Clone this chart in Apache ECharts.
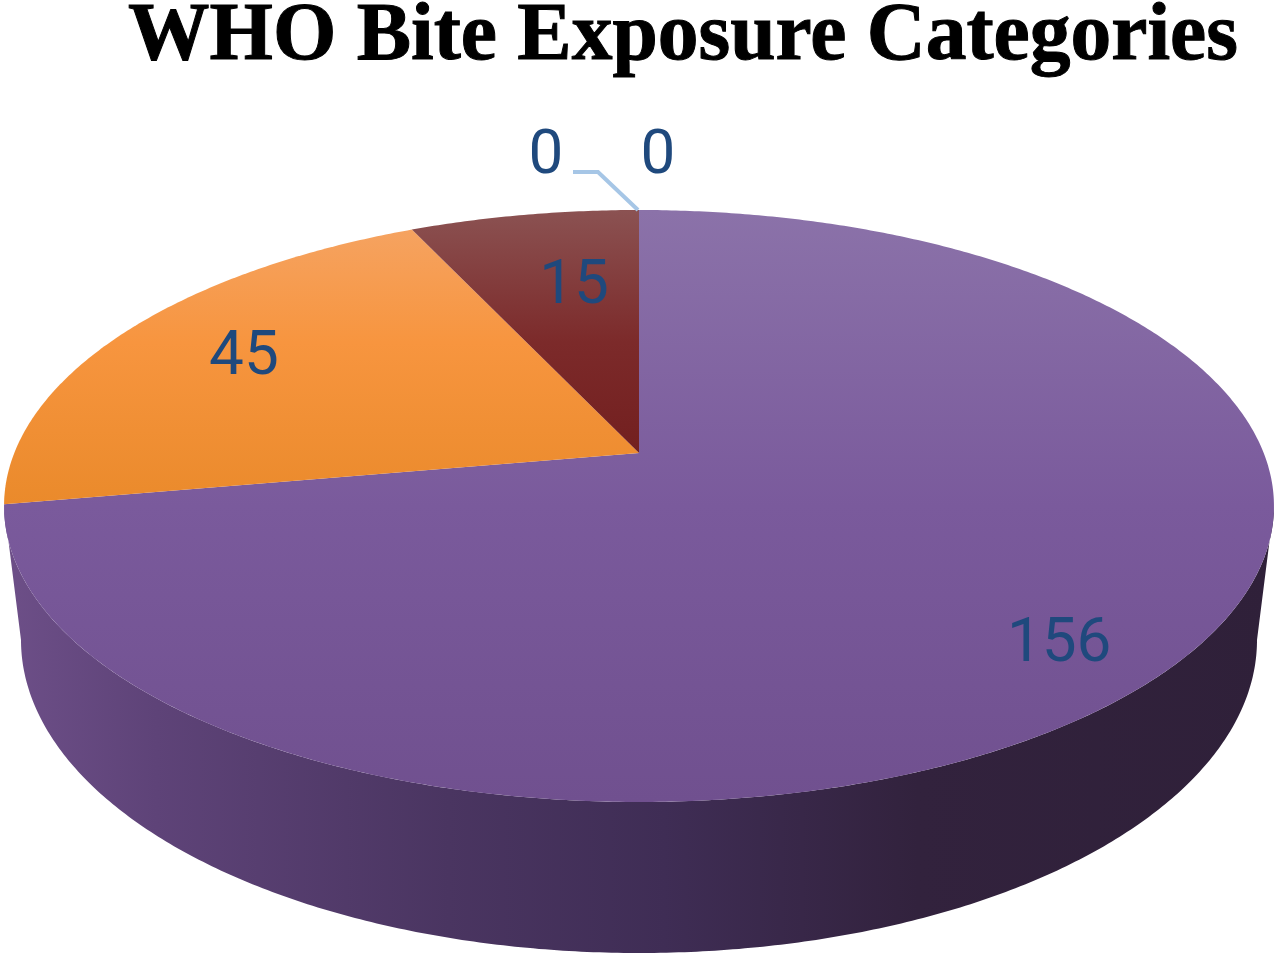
<!DOCTYPE html>
<html>
<head>
<meta charset="utf-8">
<style>html,body{margin:0;padding:0;background:#fff}#chart{width:1280px;height:959px}</style>
<script src="https://cdn.jsdelivr.net/npm/echarts@6/dist/echarts.min.js"></script>
</head>
<body>
<div id="chart"></div>
<script>
// Data
const chartTitle = 'WHO Bite Exposure Categories';
const biteValues = [156, 45, 15, 0, 0];

// Layout: perspective view of the pie disc and its lower rim
const apex = { x: 639, y: 453 };
const lens = { rx: 624.7, ry: 286.5, k: 0.179 };
const lower = { x: 639, y: 640, rx: 618, ry: 313 };
const visibleArc = [100.3, 259.7];
const labelReach = [[0.777, 0.90], [0.772, 0.818], [0.565, 0.714]];
const labelNudgeY = 5;
const zeroLabelShift = [[-93, -301], [19, -301]];
const leaderShift = [[-66, -38], [-41, -38], [-1, 0]];

// Styles
const labelColor = '#1f497d';
const topFills = [
  [[0, '#8b72a9'], [0.5, '#7a5a9c'], [1, '#70508f']],
  [[0, '#f5a566'], [0.45, '#f7953f'], [1, '#ea8a2b']],
  [[0, '#8b5252'], [0.45, '#7c2a2a'], [1, '#6e1a1a']]
];
const wallFill = [[0, '#6d4f88'], [0.12, '#5e4378'], [0.35, '#4a3561'], [0.52, '#3f2d55'], [0.72, '#32223d'], [1, '#2f2039']];

const total = biteValues.reduce((a, b) => a + b, 0);
const rad = d => d * Math.PI / 180;

function rimPoint(deg, f) {
  const u = Math.sin(rad(deg)), v = -Math.cos(rad(deg));
  const w = 1 - lens.k * v;
  const fx = f === undefined ? 1 : f[0], fy = f === undefined ? 1 : f[1];
  return [apex.x + lens.rx * u / w * fx, apex.y + lens.ry * v / w * fy];
}
function lowerPoint(deg) {
  const t = 90 + (deg - visibleArc[0]) / (visibleArc[1] - visibleArc[0]) * 180;
  return [lower.x + lower.rx * Math.sin(rad(t)), lower.y - lower.ry * Math.cos(rad(t))];
}
function arcDegrees(a, b) {
  const out = [], n = Math.max(2, Math.ceil((b - a) * 2));
  for (let i = 0; i <= n; i++) out.push(a + (b - a) * i / n);
  return out;
}

function renderSlice(params, api) {
  const i = params.dataIndex;
  const value = api.value(0);
  let before = 0;
  for (let j = 0; j < i; j++) before += biteValues[j];
  const start = before / total * 360, end = (before + value) / total * 360;
  const children = [];
  const textStyle = (t, p) => ({
    type: 'text', z2: 5,
    style: { text: String(t), x: p[0], y: p[1] + labelNudgeY, align: 'center', verticalAlign: 'middle',
             fill: labelColor, font: '62px Roboto' }
  });
  if (value > 0) {
    const top = [[apex.x, apex.y]].concat(arcDegrees(start, end).map(d => rimPoint(d)));
    children.push({
      type: 'polygon', z2: 3, shape: { points: top },
      style: { fill: { type: 'linear', global: true, x: 0, y: 210, x2: 0, y2: i === 0 ? 802 : 505,
        colorStops: topFills[i].map(s => ({ offset: s[0], color: s[1] })) } }
    });
    const a = Math.max(start, visibleArc[0]), b = Math.min(end, visibleArc[1]);
    if (b > a) {
      const ds = arcDegrees(a, b);
      const wall = ds.map(d => rimPoint(d)).concat(ds.slice().reverse().map(lowerPoint));
      children.push({
        type: 'polygon', z2: 2, shape: { points: wall },
        style: { fill: { type: 'linear', x: 0, y: 0, x2: 1, y2: 0,
          colorStops: wallFill.map(s => ({ offset: s[0], color: s[1] })) } }
      });
    }
    children.push(textStyle(value, rimPoint((start + end) / 2, labelReach[i])));
  } else {
    const rim = rimPoint(0);
    const shift = zeroLabelShift[i - (biteValues.length - zeroLabelShift.length)];
    children.push(textStyle(value, [apex.x + shift[0], apex.y + shift[1]]));
    if (i === biteValues.length - zeroLabelShift.length) {
      children.push({
        type: 'polyline', z2: 4,
        shape: { points: leaderShift.map(s => [rim[0] + s[0], rim[1] + s[1]]) },
        style: { fill: null, stroke: '#a6c6e6', lineWidth: 4 }
      });
    }
  }
  return { type: 'group', children };
}

const chart = echarts.init(document.getElementById('chart'), null, { renderer: 'canvas' });
chart.setOption({
  animation: false,
  backgroundColor: '#ffffff',
  title: {
    text: chartTitle, left: 678, top: -8, textAlign: 'center',
    textStyle: { fontFamily: 'Liberation Serif', fontWeight: 'bold', fontSize: 81.5, color: '#000',
                 textBorderColor: '#000', textBorderWidth: 1 }
  },
  series: [{
    type: 'custom', coordinateSystem: 'none', silent: true,
    renderItem: renderSlice,
    data: biteValues.map(v => [v])
  }]
});
</script>
</body>
</html>
